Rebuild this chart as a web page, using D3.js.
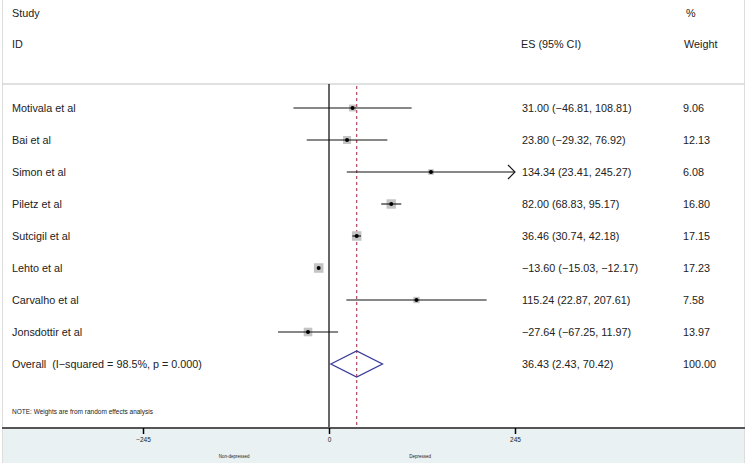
<!DOCTYPE html>
<html>
<head>
<meta charset="utf-8">
<script src="https://cdn.jsdelivr.net/npm/d3@7"></script>
<style>
  body { margin: 0; background: #fff; }
  text { font-family: "Liberation Sans", Arial, sans-serif; fill: #222; white-space: pre; }
</style>
</head>
<body>
<div id="forest"></div>
<script>
var studies = ["Motivala et al", "Bai et al", "Simon et al", "Piletz et al", "Sutcigil et al",
               "Lehto et al", "Carvalho et al", "Jonsdottir et al"];
var es = [31.00, 23.80, 134.34, 82.00, 36.46, -13.60, 115.24, -27.64];
var lower = [-46.81, -29.32, 23.41, 68.83, 30.74, -15.03, 22.87, -67.25];
var upper = [108.81, 76.92, 245.27, 95.17, 42.18, -12.17, 207.61, 11.97];
var weights = [9.06, 12.13, 6.08, 16.80, 17.15, 17.23, 7.58, 13.97];
var overallLabel = "Overall  (I\u2212squared = 98.5%, p = 0.000)";
var overall = {es: 36.43, lower: 2.43, upper: 70.42, weight: 100.00};
var xTicks = [-245, 0, 245];

var width = 750, height = 466;
var fs = "10.8px";

var svg = d3.select("#forest")
  .append("svg")
    .attr("width", width)
    .attr("height", height);

var fmt = d3.format(".2f");
var minus = function(s) { return s.replace(/-/g, "\u2212"); };

var x = d3.scaleLinear()
  .domain([-245, 245])
  .range([143, 515]);

var rows = studies.concat([overallLabel]);
var y = d3.scalePoint()
  .domain(rows)
  .range([108, 364]);

// bottom band + frame
svg.append("rect")
  .attr("x", 2).attr("y", 428)
  .attr("width", 743).attr("height", 35)
  .attr("fill", "#eaf1f3");
svg.append("line")
  .attr("x1", 2.5).attr("x2", 2.5).attr("y1", 0).attr("y2", 463)
  .attr("stroke", "#ddd");
svg.append("line")
  .attr("x1", 744.5).attr("x2", 744.5).attr("y1", 0).attr("y2", 463)
  .attr("stroke", "#ddd");
svg.append("line")
  .attr("x1", 2).attr("x2", 745).attr("y1", 84).attr("y2", 84)
  .attr("stroke", "#d6d6d6").attr("stroke-width", 1.5);

// headers
svg.append("text").attr("x", 12).attr("y", 17).style("font-size", fs).text("Study");
svg.append("text").attr("x", 12).attr("y", 48).style("font-size", fs).text("ID");
svg.append("text").attr("x", 521).attr("y", 48).style("font-size", fs).text("ES (95% CI)");
svg.append("text").attr("x", 686).attr("y", 17).style("font-size", fs).text("%");
svg.append("text").attr("x", 684).attr("y", 48).style("font-size", fs).text("Weight");

// null line and overall dashed line
svg.append("line")
  .attr("x1", x(0)).attr("x2", x(0))
  .attr("y1", 84).attr("y2", 428)
  .attr("stroke", "#000").attr("stroke-width", 1.2);
svg.append("line")
  .attr("x1", x(overall.es)).attr("x2", x(overall.es))
  .attr("y1", 86).attr("y2", 428)
  .attr("stroke", "#b5556a").attr("stroke-width", 1.3)
  .attr("stroke-dasharray", "3,3");

var data = studies.map(function(d, i) {
  return {name: d, es: es[i], lo: lower[i], hi: upper[i], w: weights[i]};
});

var g = svg.selectAll(".study").data(data).enter().append("g");

g.append("text")
  .attr("x", 12).attr("y", function(d) { return y(d.name) + 4; })
  .style("font-size", fs)
  .text(function(d) { return d.name; });

g.append("text")
  .attr("x", 522).attr("y", function(d) { return y(d.name) + 4; })
  .style("font-size", fs)
  .text(function(d) { return minus(fmt(d.es) + " (" + fmt(d.lo) + ", " + fmt(d.hi) + ")"); });

g.append("text")
  .attr("x", 683).attr("y", function(d) { return y(d.name) + 4; })
  .style("font-size", fs)
  .text(function(d) { return fmt(d.w); });

g.append("rect")
  .attr("x", function(d) { return x(d.es) - Math.sqrt(d.w) * 1.15; })
  .attr("y", function(d) { return y(d.name) - Math.sqrt(d.w) * 1.15; })
  .attr("width", function(d) { return Math.sqrt(d.w) * 2.3; })
  .attr("height", function(d) { return Math.sqrt(d.w) * 2.3; })
  .attr("fill", "#c4c4c4");

g.append("line")
  .attr("x1", function(d) { return x(Math.max(d.lo, -245)); })
  .attr("x2", function(d) { return x(Math.min(d.hi, 245)); })
  .attr("y1", function(d) { return y(d.name); })
  .attr("y2", function(d) { return y(d.name); })
  .attr("stroke", "#111").attr("stroke-width", 1.1);

g.append("circle")
  .attr("cx", function(d) { return x(d.es); })
  .attr("cy", function(d) { return y(d.name); })
  .attr("r", 2)
  .attr("fill", "#000");

// arrow for CIs past the axis
g.filter(function(d) { return d.hi > 245; })
  .append("path")
  .attr("d", function(d) {
    var tx = x(245), ty = y(d.name);
    return "M" + (tx - 7) + "," + (ty - 7) + "L" + tx + "," + ty + "L" + (tx - 7) + "," + (ty + 7);
  })
  .attr("fill", "none").attr("stroke", "#111").attr("stroke-width", 1.1);

// overall row
var oy = y(overallLabel);
svg.append("text").attr("x", 12).attr("y", oy + 4).style("font-size", fs).text(overallLabel);
svg.append("text").attr("x", 522).attr("y", oy + 4).style("font-size", fs)
  .text(minus(fmt(overall.es) + " (" + fmt(overall.lower) + ", " + fmt(overall.upper) + ")"));
svg.append("text").attr("x", 683).attr("y", oy + 4).style("font-size", fs).text(fmt(overall.weight));
svg.append("path")
  .attr("d", "M" + x(overall.lower) + "," + oy +
             "L" + x(overall.es) + "," + (oy - 13) +
             "L" + x(overall.upper) + "," + oy +
             "L" + x(overall.es) + "," + (oy + 13) + "Z")
  .attr("fill", "none").attr("stroke", "#3a3a9a").attr("stroke-width", 1.3);

svg.append("text").attr("x", 12).attr("y", 414).style("font-size", "6.5px")
  .text("NOTE: Weights are from random effects analysis");

// x axis
svg.append("line")
  .attr("x1", 2).attr("x2", 745).attr("y1", 428).attr("y2", 428)
  .attr("stroke", "#555").attr("stroke-width", 1.8);

var axis = svg.append("g")
  .attr("transform", "translate(0,428)")
  .call(d3.axisBottom(x).tickValues(xTicks).tickSize(6).tickPadding(3)
        .tickFormat(function(d) { return minus(String(d)); }));
axis.select(".domain").remove();
axis.selectAll(".tick line").attr("stroke", "#000").attr("stroke-width", 1.5);
axis.selectAll("text").style("font-size", "6.5px").attr("fill", "#222")
  .style("font-family", "Liberation Sans, Arial, sans-serif");

svg.append("text").attr("x", x(-125)).attr("y", 458)
  .style("font-size", "4.5px").style("text-anchor", "middle").text("Non-depressed");
svg.append("text").attr("x", x(120)).attr("y", 458)
  .style("font-size", "4.5px").style("text-anchor", "middle").text("Depressed");
</script>
</body>
</html>
